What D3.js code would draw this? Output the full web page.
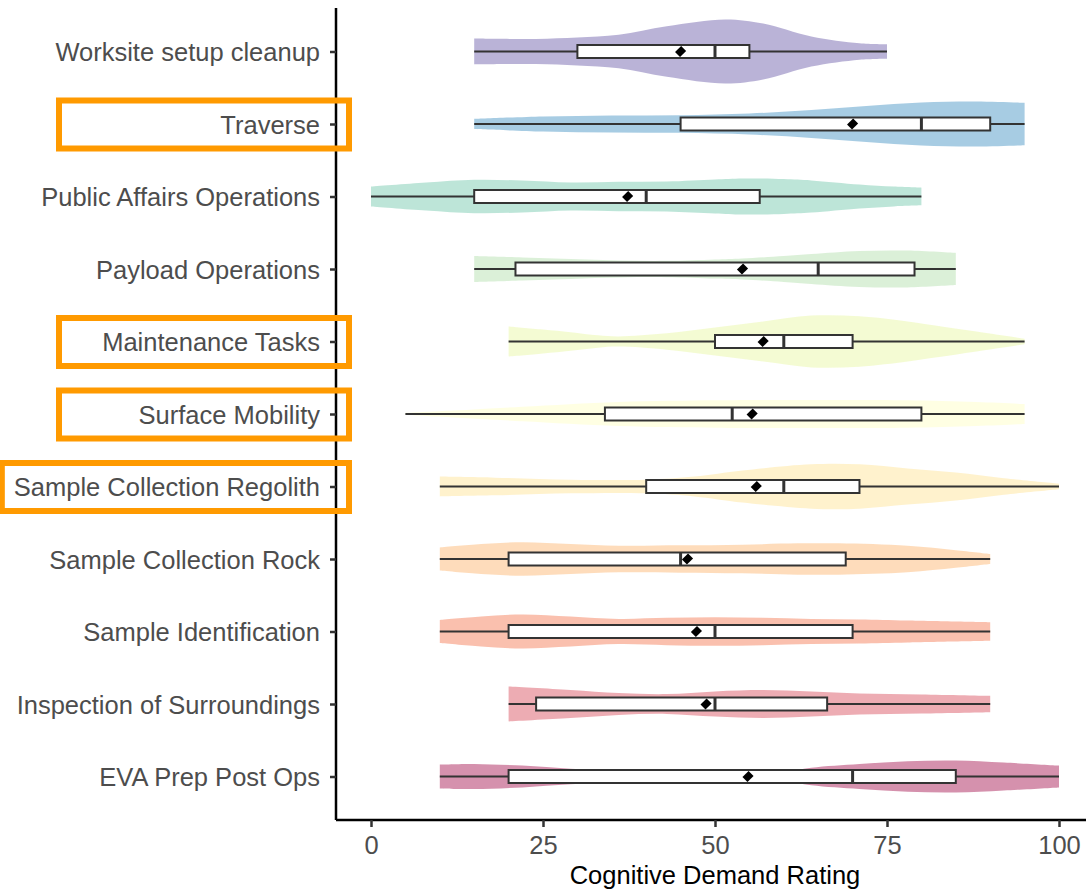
<!DOCTYPE html>
<html>
<head>
<meta charset="utf-8">
<script src="https://cdn.jsdelivr.net/npm/d3@7"></script>
<style>
  body { margin: 0; background: #ffffff; }
  svg { display: block; }
</style>
</head>
<body>
<script>
// violin + boxplot of cognitive demand ratings per EVA task

// categories, top to bottom
const tasks = [
  "Worksite setup cleanup",
  "Traverse",
  "Public Affairs Operations",
  "Payload Operations",
  "Maintenance Tasks",
  "Surface Mobility",
  "Sample Collection Regolith",
  "Sample Collection Rock",
  "Sample Identification",
  "Inspection of Surroundings",
  "EVA Prep Post Ops"
];

// tasks highlighted with an orange frame
const highlighted = ["Traverse", "Maintenance Tasks", "Surface Mobility", "Sample Collection Regolith"];

// box stats per task: min, q1, median, q3, max
const mins    = [15, 15,  0, 15, 20,  5, 10, 10, 10, 20,  10];
const q1s     = [30, 45, 15, 21, 50, 34, 40, 20, 20, 24,  20];
const medians = [50, 80, 40, 65, 60, 52.5, 60, 45, 50, 50, 70];
const q3s     = [55, 90, 56.5, 79, 70, 80, 71, 69, 70, 66.3, 85];
const maxs    = [75, 95, 80, 85, 95, 95, 100, 90, 90, 90, 100];
const means   = [45, 70, 37.3, 54, 57, 55.4, 56, 46, 47.3, 48.7, 54.8];

// violin outlines: [rating, relative density]
const densities = [
  [[15,.38],[24,.37],[30,.41],[36,.49],[43,.74],[51.5,.94],[57,.82],[64,.44],[71,.24],[75,.21]],
  [[15,.15],[25,.22],[35,.25],[45,.26],[55,.31],[64,.41],[72,.53],[80,.63],[88,.66],[95,.62]],
  [[0,.29],[8,.41],[15,.49],[22,.47],[29,.41],[36,.43],[43,.44],[50,.5],[54,.53],[60,.51],[64,.47],[71,.35],[76,.29],[80,.26]],
  [[15,.38],[22,.34],[29,.29],[36,.25],[43,.24],[50,.28],[54,.31],[60,.38],[64,.44],[71,.53],[78,.54],[85,.47]],
  [[20,.44],[25,.35],[29,.27],[33,.18],[36,.15],[43,.24],[50,.41],[57,.59],[64,.76],[71,.74],[78,.59],[82,.47],[88,.29],[95,.08]],
  [[5,.03],[12,.1],[22,.21],[36,.35],[50,.4],[57,.41],[70,.41],[78,.4],[88,.35],[95,.29]],
  [[10,.29],[18,.26],[29,.2],[40,.2],[47,.29],[54,.47],[64,.65],[71,.65],[78,.53],[85,.41],[92,.24],[100,.08]],
  [[10,.34],[16,.44],[22,.49],[29,.44],[36,.39],[45,.4],[54,.42],[62,.46],[68,.46],[78,.39],[85,.26],[90,.15]],
  [[10,.34],[16,.44],[22,.5],[29,.44],[36,.37],[43,.4],[50,.42],[57,.4],[64,.37],[71,.35],[78,.32],[90,.27]],
  [[20,.51],[29,.41],[36,.32],[43,.29],[50,.37],[57,.41],[64,.37],[71,.31],[80,.28],[90,.24]],
  [[10,.35],[15,.37],[22,.32],[29,.23],[36,.16],[43,.13],[50,.06],[55,.03],[60,.12],[64,.26],[71,.37],[78,.45],[85,.47],[92,.41],[100,.32]]
];

const xTicks = [0, 25, 50, 75, 100];

const width = 1086;
const height = 891;
const margin = {top: 8, right: 27, bottom: 71, left: 336};

const svg = d3.select("body")
  .append("svg")
  .attr("width", width)
  .attr("height", height)
  .style("font-family", "'Liberation Sans', Arial, sans-serif");

// scales
const x = d3.scaleLinear()
  .domain([0, 100])
  .range([371, 1059]);

const y = d3.scalePoint()
  .domain(tasks)
  .range([margin.top, height - margin.bottom])
  .padding(0.6);

const w = d3.scaleLinear()
  .domain([0, 1])
  .range([0, y.step() * 0.47]);

// Spectral palette, purple at the top
const colour = d3.scaleOrdinal()
  .domain(tasks)
  .range(d3.schemeSpectral[11].slice().reverse());

const rows = tasks.map((t, i) => ({
  task: t,
  min: mins[i], q1: q1s[i], median: medians[i], q3: q3s[i], max: maxs[i], mean: means[i],
  density: densities[i]
}));

const g = svg.selectAll("g.row")
  .data(rows)
  .enter()
  .append("g")
  .attr("class", "row")
  .attr("transform", d => `translate(0,${y(d.task)})`);

// violins
const area = d3.area()
  .x(p => x(p[0]))
  .y0(p => -w(p[1]))
  .y1(p => w(p[1]))
  .curve(d3.curveCatmullRom.alpha(0.5));

g.append("path")
  .attr("d", d => area(d.density))
  .attr("fill", d => colour(d.task))
  .attr("fill-opacity", 0.43);

// whiskers
g.append("line")
  .attr("x1", d => x(d.min))
  .attr("x2", d => x(d.max))
  .attr("stroke", "#333333")
  .attr("stroke-width", 2);

// boxes
const boxH = 13;
g.append("rect")
  .attr("x", d => x(d.q1))
  .attr("y", -boxH / 2)
  .attr("width", d => x(d.q3) - x(d.q1))
  .attr("height", boxH)
  .attr("fill", "white")
  .attr("stroke", "#333333")
  .attr("stroke-width", 2);

g.append("line")
  .attr("x1", d => x(d.median))
  .attr("x2", d => x(d.median))
  .attr("y1", -boxH / 2)
  .attr("y2", boxH / 2)
  .attr("stroke", "#333333")
  .attr("stroke-width", 3);

// mean diamonds
g.append("path")
  .attr("d", d3.symbol(d3.symbolSquare, 62))
  .attr("transform", d => `translate(${x(d.mean)},0) rotate(45) scale(0.9,1.1)`)
  .attr("fill", "black");

// y axis
const yAxis = svg.append("g")
  .attr("transform", `translate(${margin.left},0)`)
  .call(d3.axisLeft(y).tickSize(6).tickPadding(10));

yAxis.select(".domain")
  .attr("d", `M0,${margin.top}V${height - margin.bottom}`)
  .attr("stroke", "black")
  .attr("stroke-width", 2.5);
yAxis.selectAll(".tick line").attr("stroke", "#333333").attr("stroke-width", 2.5);
yAxis.selectAll(".tick text")
  .attr("fill", "#4d4d4d")
  .style("font-size", "25.5px")
  .attr("dy", "0.36em");

// x axis
const xAxis = svg.append("g")
  .attr("transform", `translate(0,${height - margin.bottom})`)
  .call(d3.axisBottom(x).tickValues(xTicks).tickSize(7).tickPadding(9));

xAxis.select(".domain")
  .attr("d", `M${margin.left},0H${width}`)
  .attr("stroke", "black")
  .attr("stroke-width", 2.5);
xAxis.selectAll(".tick line").attr("stroke", "#333333").attr("stroke-width", 2.5);
xAxis.selectAll(".tick text")
  .attr("fill", "#4d4d4d")
  .style("font-size", "25.5px");

// axis title
svg.append("text")
  .attr("x", x(50))
  .attr("y", 884)
  .attr("text-anchor", "middle")
  .style("font-size", "25.5px")
  .attr("fill", "black")
  .text("Cognitive Demand Rating");

// orange frames around highlighted labels
yAxis.selectAll(".tick")
  .filter(d => highlighted.includes(d))
  .each(function(d) {
    const bb = d3.select(this).select("text").node().getBBox();
    const left = Math.min(59 - margin.left, bb.x - 12);
    d3.select(this).append("rect")
      .attr("x", left)
      .attr("y", -24)
      .attr("width", 13 - left)
      .attr("height", 48)
      .attr("fill", "none")
      .attr("stroke", "#ff9a00")
      .attr("stroke-width", 6);
  });
</script>
</body>
</html>
